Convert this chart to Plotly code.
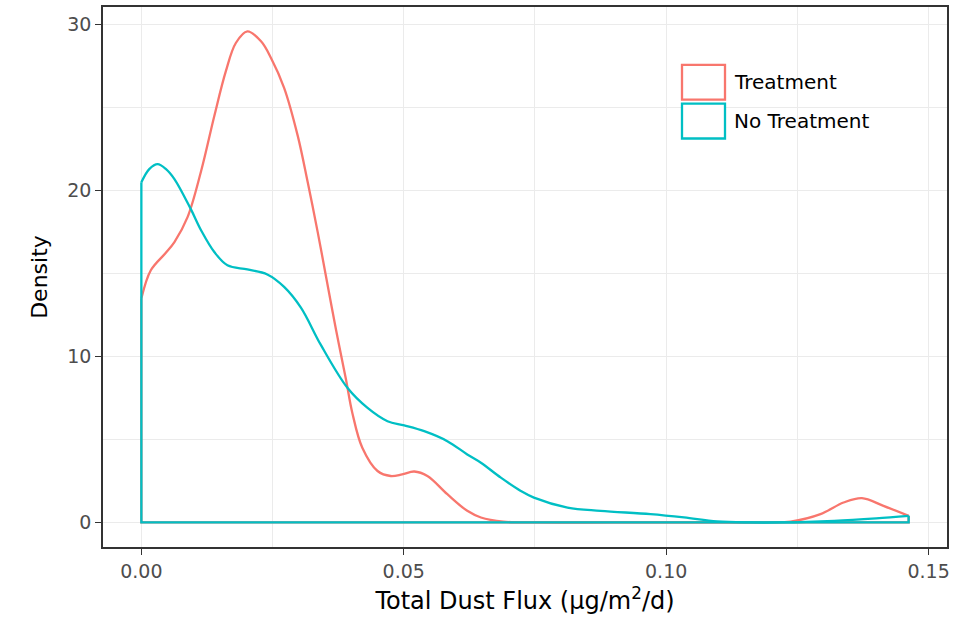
import plotly.graph_objects as go

# Data
treat_x = [0.0, 0.0018, 0.0045, 0.0063, 0.0088, 0.0114, 0.0139, 0.0161, 0.0180, 0.0202,
           0.0228, 0.0247, 0.0272, 0.0298, 0.0317, 0.0336, 0.0352, 0.0371, 0.0390, 0.0402,
           0.0421, 0.0450, 0.0475, 0.0497, 0.0520, 0.0545, 0.0583, 0.0621, 0.0647, 0.0690,
           0.0750, 0.0900, 0.1100, 0.1200, 0.1237, 0.1294, 0.1338, 0.1373, 0.1414, 0.1462]
treat_y = [13.5, 15.2, 16.2, 16.9, 18.4, 21.2, 24.5, 27.2, 28.9, 29.6,
           29.0, 28.0, 26.2, 23.3, 20.5, 17.5, 14.8, 11.6, 8.6, 6.6,
           4.5, 3.1, 2.8, 2.9, 3.07, 2.8, 1.7, 0.7, 0.3, 0.05,
           0.0, 0.0, 0.0, 0.0, 0.05, 0.5, 1.2, 1.47, 1.0, 0.4]

notreat_x = [0.0, 0.0015, 0.0031, 0.0047, 0.0063, 0.0094, 0.0114, 0.0139, 0.0164, 0.0202,
             0.0240, 0.0272, 0.0304, 0.0342, 0.0393, 0.0431, 0.0469, 0.0501, 0.0539, 0.0583,
             0.0621, 0.0647, 0.0685, 0.0723, 0.0748, 0.0812, 0.0875, 0.0970, 0.1034, 0.1097,
             0.1160, 0.1220, 0.1320, 0.1400, 0.1462]
notreat_y = [20.5, 21.3, 21.6, 21.3, 20.7, 18.9, 17.6, 16.3, 15.5, 15.25,
             14.95, 14.2, 12.95, 10.7, 8.1, 6.9, 6.1, 5.85, 5.5, 4.9,
             4.1, 3.6, 2.7, 1.9, 1.5, 0.9, 0.7, 0.5, 0.3, 0.06,
             0.0, 0.0, 0.1, 0.25, 0.4]

series = [
    ("Treatment", treat_x, treat_y, "#F8766D"),
    ("No Treatment", notreat_x, notreat_y, "#00BFC4"),
]

x_ticks = [0.00, 0.05, 0.10, 0.15]
x_ticklabels = ["0.00", "0.05", "0.10", "0.15"]
y_ticks = [0, 10, 20, 30]

fig = go.Figure()
LW = 2.3
for name, xs, ys, col in series:
    # density curve
    fig.add_trace(go.Scatter(x=xs, y=ys, mode="lines", name=name,
                             line=dict(color=col, width=LW, shape="spline", smoothing=1.0),
                             showlegend=False, hoverinfo="skip"))
    # closing polygon edges (geom_density outline)
    fig.add_trace(go.Scatter(x=[xs[0], xs[0], xs[-1], xs[-1]],
                             y=[ys[0], 0, 0, ys[-1]], mode="lines",
                             line=dict(color=col, width=LW),
                             showlegend=False, hoverinfo="skip"))

FONT = "DejaVu Sans, Liberation Sans, Arial, sans-serif"
grid_c = "#EBEBEB"
axis_c = "#333333"

fig.update_layout(
    width=961, height=620,
    margin=dict(l=103, r=14, t=5, b=73),
    plot_bgcolor="white", paper_bgcolor="white",
    font=dict(family=FONT, color="black"),
    xaxis=dict(
        range=[-0.00731, 0.15351], tickvals=x_ticks, ticktext=x_ticklabels,
        showgrid=True, gridcolor=grid_c, gridwidth=1.3,
        minor=dict(tickvals=[0.025, 0.075, 0.125], showgrid=True, gridcolor=grid_c, gridwidth=0.7, ticks=""),
        zeroline=False, showline=True, linecolor=axis_c, linewidth=1.5, mirror=True,
        ticks="outside", ticklen=6, tickwidth=1.3, tickcolor=axis_c,
        tickfont=dict(size=19, color="#4D4D4D", family=FONT),
        title=dict(text="Total Dust Flux (μg/m<sup>2</sup>/d)", font=dict(size=24, color="black", family=FONT), standoff=12),
    ),
    yaxis=dict(
        range=[-1.48, 31.07], tickvals=y_ticks,
        showgrid=True, gridcolor=grid_c, gridwidth=1.3,
        minor=dict(tickvals=[5, 15, 25], showgrid=True, gridcolor=grid_c, gridwidth=0.7, ticks=""),
        zeroline=False, showline=True, linecolor=axis_c, linewidth=1.5, mirror=True,
        ticks="outside", ticklen=6, tickwidth=1.3, tickcolor=axis_c,
        tickfont=dict(size=19, color="#4D4D4D", family=FONT),
        title=dict(text="Density", font=dict(size=22, color="black", family=FONT), standoff=14),
    ),
    showlegend=False,
)

# Custom legend (ggplot-style key boxes)
def px_to_paper_x(px):
    return (px - 103) / (961 - 103 - 14)

def px_to_paper_y(py):
    return 1 - (py - 5) / (620 - 5 - 73)

fig.add_shape(type="rect", xref="paper", yref="paper",
              x0=px_to_paper_x(663), x1=px_to_paper_x(890),
              y0=px_to_paper_y(150), y1=px_to_paper_y(48),
              fillcolor="white", line=dict(width=0), layer="below")
boxes = [(63, 98), (102, 137)]
for (name, xs, ys, col), (t, b) in zip(series, boxes):
    fig.add_shape(type="rect", xref="paper", yref="paper",
                  x0=px_to_paper_x(682), x1=px_to_paper_x(725),
                  y0=px_to_paper_y(b), y1=px_to_paper_y(t),
                  fillcolor="white", line=dict(color=col, width=2.3), layer="above")
    fig.add_annotation(xref="paper", yref="paper", x=px_to_paper_x(732), y=px_to_paper_y((t + b) / 2),
                       text=name, showarrow=False, xanchor="left", yanchor="middle",
                       font=dict(size=20, color="black", family=FONT))

fig.write_html("out.html")
